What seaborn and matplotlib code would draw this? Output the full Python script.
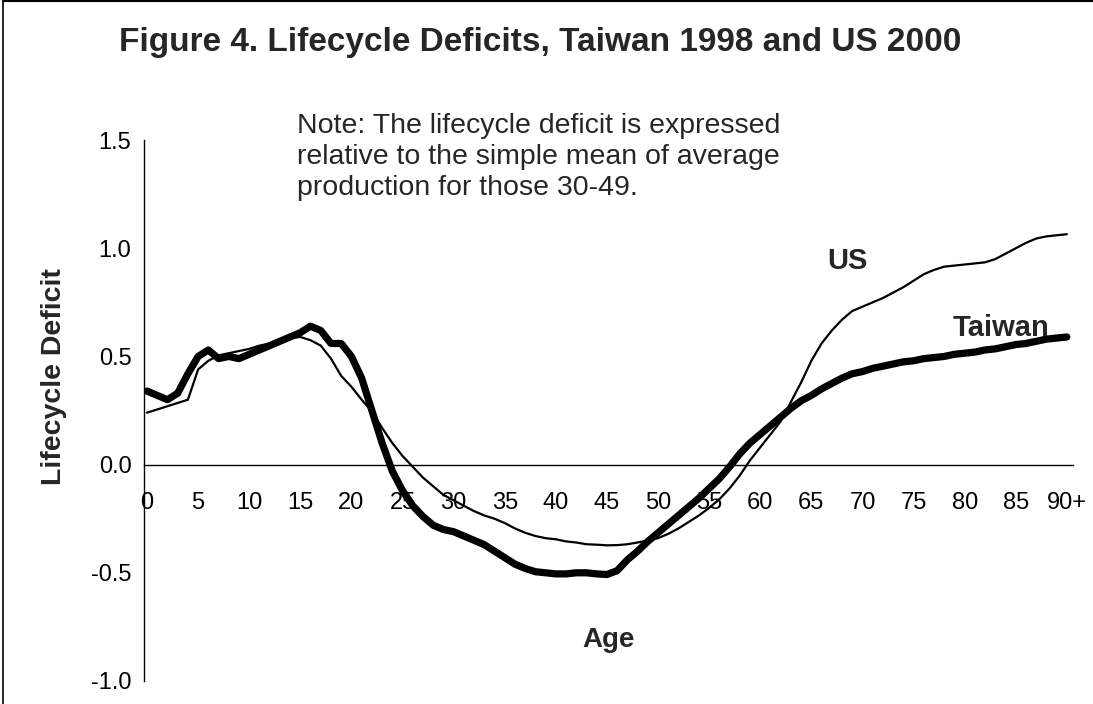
import numpy as np
import pandas as pd
import matplotlib
matplotlib.use("Agg")
import matplotlib.pyplot as plt
from matplotlib.lines import Line2D
import seaborn as sns

# ── Datos ─────────────────────────────────────────────────────────────────────

EDADES = list(range(0, 91))

TAIWAN = [
    0.34, 0.32, 0.30, 0.33, 0.42, 0.50, 0.53, 0.49, 0.50, 0.49,   # 0-9
    0.51, 0.53, 0.55, 0.57, 0.59, 0.61, 0.64, 0.62, 0.56, 0.56,   # 10-19
    0.50, 0.40, 0.25, 0.10, -0.03, -0.12, -0.19, -0.24, -0.28, -0.30,  # 20-29
    -0.31, -0.33, -0.35, -0.37, -0.40, -0.43, -0.46, -0.48, -0.495, -0.50,  # 30-39
    -0.505, -0.505, -0.50, -0.50, -0.505, -0.508, -0.49, -0.44, -0.40, -0.355,  # 40-49
    -0.315, -0.275, -0.235, -0.195, -0.155, -0.11, -0.065, -0.01, 0.05, 0.10,  # 50-59
    0.14, 0.18, 0.22, 0.26, 0.295, 0.32, 0.35, 0.375, 0.40, 0.42,  # 60-69
    0.43, 0.445, 0.455, 0.465, 0.475, 0.48, 0.49, 0.495, 0.50, 0.51,  # 70-79
    0.515, 0.52, 0.53, 0.535, 0.545, 0.555, 0.56, 0.57, 0.58, 0.585,  # 80-89
    0.59,                                                           # 90+
]

US = [
    0.24, 0.255, 0.27, 0.285, 0.30, 0.44, 0.48, 0.505, 0.515, 0.525,  # 0-9
    0.535, 0.55, 0.56, 0.575, 0.585, 0.59, 0.575, 0.55, 0.49, 0.41,   # 10-19
    0.36, 0.30, 0.245, 0.17, 0.10, 0.04, -0.01, -0.06, -0.10, -0.14,  # 20-29
    -0.165, -0.19, -0.215, -0.235, -0.25, -0.27, -0.295, -0.315, -0.33, -0.34,  # 30-39
    -0.345, -0.355, -0.36, -0.368, -0.37, -0.373, -0.372, -0.368, -0.36, -0.35,  # 40-49
    -0.34, -0.32, -0.295, -0.265, -0.235, -0.20, -0.16, -0.11, -0.05, 0.02,  # 50-59
    0.08, 0.14, 0.20, 0.29, 0.38, 0.48, 0.56, 0.62, 0.67, 0.71,   # 60-69
    0.73, 0.75, 0.77, 0.795, 0.82, 0.85, 0.88, 0.90, 0.915, 0.92,  # 70-79
    0.925, 0.93, 0.935, 0.95, 0.975, 1.00, 1.025, 1.045, 1.055, 1.06,  # 80-89
    1.065,                                                          # 90+
]

TICKS_X = list(range(0, 91, 5))
ETIQUETAS_X = [str(t) for t in TICKS_X[:-1]] + ["90+"]
TICKS_Y = [-1.0, -0.5, 0.0, 0.5, 1.0, 1.5]

TITULO = "Figure 4. Lifecycle Deficits, Taiwan 1998 and US 2000"
NOTA = ("Note: The lifecycle deficit is expressed\n"
        "relative to the simple mean of average\n"
        "production for those 30-49.")

# ── Figura ────────────────────────────────────────────────────────────────────

sns.set_style("white")
plt.rcParams["font.family"] = ["Liberation Sans", "DejaVu Sans"]

df = pd.DataFrame({"edad": EDADES, "Taiwan": TAIWAN, "US": US})

fig = plt.figure(figsize=(10.93, 7.04), dpi=100)
ax = fig.add_axes([0.1317, 0.0327, 0.8500, 0.7683])

sns.lineplot(data=df, x="edad", y="US", ax=ax, color="black", linewidth=1.6)
sns.lineplot(data=df, x="edad", y="Taiwan", ax=ax, color="black", linewidth=5.2,
             solid_capstyle="round")

ax.set_xlim(-0.3, 90.6)
ax.set_ylim(-1.0, 1.5)

# ejes estilo Excel: eje x cruza en 0
for lado in ["top", "right"]:
    ax.spines[lado].set_visible(False)
ax.spines["bottom"].set_position(("data", 0))
for lado in ["bottom", "left"]:
    ax.spines[lado].set_linewidth(1.0)
    ax.spines[lado].set_color("black")

ax.set_xticks(TICKS_X)
ax.set_xticklabels(ETIQUETAS_X)
ax.set_yticks(TICKS_Y)
ax.set_yticklabels([f"{v:.1f}" for v in TICKS_Y])
ax.tick_params(axis="x", direction="out", length=6, width=1, pad=14,
               labelsize=17, colors="black")
ax.tick_params(axis="y", direction="out", length=6, width=1, pad=3,
               labelsize=17, colors="black")
ax.set_xlabel("")
ax.set_ylabel("")

# textos
fig.text(0.494, 0.940, TITULO, ha="center", va="center",
         fontsize=24, fontweight="bold")
fig.text(0.272, 0.777, NOTA, ha="left", va="center", fontsize=20.5,
         linespacing=1.27)
fig.text(0.049, 0.465, "Lifecycle Deficit", rotation=90, ha="center",
         va="center", fontsize=20.5, fontweight="bold")
fig.text(0.557, 0.091, "Age", ha="center", va="center", fontsize=20,
         fontweight="bold")
fig.text(0.775, 0.629, "US", ha="center", va="center", fontsize=21,
         fontweight="bold")
fig.text(0.916, 0.534, "Taiwan", ha="center", va="center", fontsize=21,
         fontweight="bold")

# marco del gráfico (solo izquierda y arriba visibles)
fig.add_artist(Line2D([0.003, 0.003], [0, 0.999], color="black", linewidth=1.2))
fig.add_artist(Line2D([0.003, 1.0], [0.998, 0.998], color="black", linewidth=1.5))

fig.savefig("out.png", dpi=100)
